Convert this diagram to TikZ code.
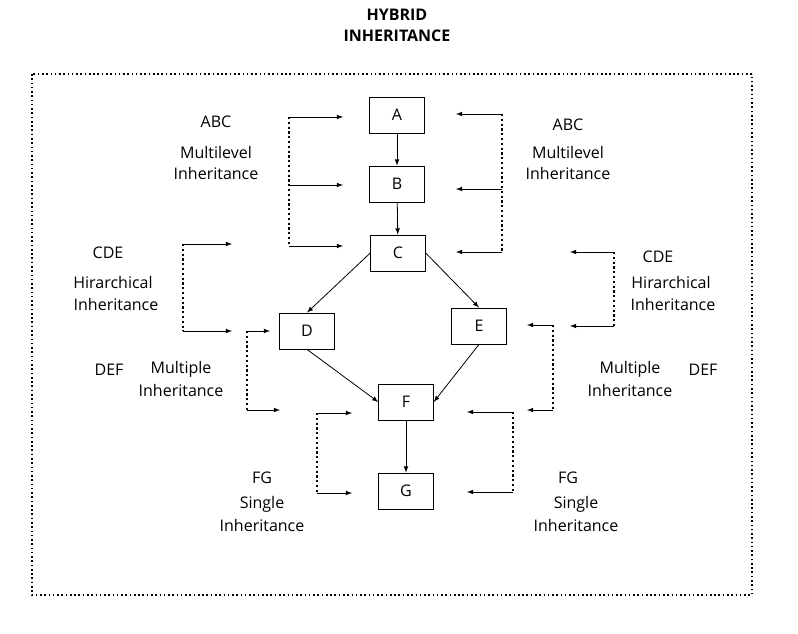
\documentclass[tikz,border=0pt]{standalone}
\usepackage{fontspec}
\setmainfont{Open Sans}
\usepackage{tikz}

\begin{document}
\begin{tikzpicture}[x=0.75pt, y=-0.75pt, every node/.style={font=\fontsize{12}{14}\selectfont}]
  \tikzset{>=latex}
  \useasboundingbox (0,0) rectangle (798,634);
  %
  \node [font=\fontsize{12}{14}\selectfont\bfseries] (title1) at (397,15) {HYBRID};
  \node [font=\fontsize{12}{14}\selectfont\bfseries] (title2) at (397,36) {INHERITANCE};
  \draw [dotted, very thick] (32,74) rectangle (752,595);
  %
  \foreach \n/\x/\y in {A/397/115, B/397/184, C/398/253, D/307/331, E/479/326, F/406/402, G/406/491} {
    \node [draw, semithick, minimum width=41pt, minimum height=27pt]  (\n) at (\x,\y) {\n};
  }
  \draw [->, semithick] (A) -- (B);
  \draw [->, semithick] (B) -- (C);
  \draw [->, semithick] (C.west) -- (D.north);
  \draw [->, semithick] (C.east) -- (E.north);
  \draw [->, semithick] (D.south) -- (F.west);
  \draw [->, semithick] (E.south) -- (F.east);
  \draw [->, semithick] (F) -- (G);
  %
  % brackets with three arrows
  \foreach \b/\sx/\tx/\ya/\yb/\yc in {abcL/289/343/117/185/246, abcR/502/456/114/189/252} {
    \coordinate (\b s1) at (\sx,\ya);
    \coordinate (\b s2) at (\sx,\yb);
    \coordinate (\b s3) at (\sx,\yc);
    \coordinate (\b t1) at (\tx,\ya);
    \coordinate (\b t2) at (\tx,\yb);
    \coordinate (\b t3) at (\tx,\yc);
    \draw [dotted, ultra thick] (\b s1) -- (\b s3);
    \foreach \i in {1,2,3} {
      \draw [->, semithick] (\b s\i) -- (\b t\i);
    }
  }
  % brackets with two arrows
  \foreach \b/\sx/\ta/\tb/\ya/\yb in {cdeL/183/232/232/244/331, defL/247/270/280/331/410,
    fgL/317/352/352/413/493, cdeR/614/570/570/252/326, defR/553/527/527/325/410,
    fgR/513/467/467/412/492} {
    \coordinate (\b s1) at (\sx,\ya);
    \coordinate (\b s2) at (\sx,\yb);
    \coordinate (\b t1) at (\ta,\ya);
    \coordinate (\b t2) at (\tb,\yb);
    \draw [dotted, ultra thick] (\b s1) -- (\b s2);
    \draw [->, semithick] (\b s1) -- (\b t1);
    \draw [->, semithick] (\b s2) -- (\b t2);
  }
  %
  \foreach \t/\x/\y [count=\i] in {ABC/216/122, Multilevel/216/153, Inheritance/216/174,
    ABC/568/125, Multilevel/568/153, Inheritance/568/174,
    CDE/108/253, Hirarchical/113/282, Inheritance/116/304,
    CDE/658/257, Hirarchical/671/282, Inheritance/673/304,
    DEF/109/370, Multiple/181/369, Inheritance/181/390,
    Multiple/630/369, Inheritance/630/390, DEF/703/370,
    FG/262/478, Single/262/504, Inheritance/262/525,
    FG/568/478, Single/576/504, Inheritance/576/525} {
    \node (lbl\i) at (\x,\y) {\t};
  }
\end{tikzpicture}
\end{document}
